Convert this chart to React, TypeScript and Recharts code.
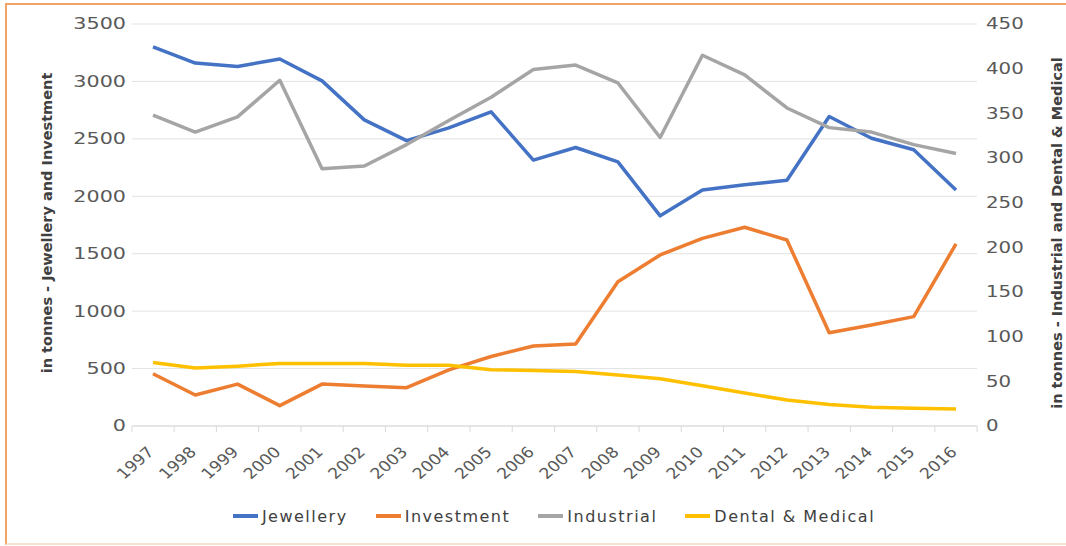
import { LineChart, Line, XAxis, YAxis, CartesianGrid, Legend } from "recharts";

const years = [
  "1997", "1998", "1999", "2000", "2001", "2002", "2003", "2004", "2005", "2006",
  "2007", "2008", "2009", "2010", "2011", "2012", "2013", "2014", "2015", "2016",
];
const jewellery = [3300, 3160, 3130, 3195, 3005, 2665, 2485, 2595, 2735, 2315, 2425, 2300, 1830, 2055, 2100, 2140, 2695, 2505, 2405, 2055];
const investment = [455, 270, 365, 177, 365, 348, 334, 488, 605, 697, 714, 1256, 1489, 1634, 1730, 1619, 812, 879, 952, 1585];
const industrial = [348, 329, 346, 387, 288, 291, 315, 342, 368, 399, 404, 384, 323, 415, 393, 356, 334, 329, 315, 305];
const dental = [71, 65, 67, 70, 70, 70, 68, 68, 63, 62, 61, 57, 53, 45, 37, 29, 24, 21, 20, 19];

const seriesNames = ["Jewellery", "Investment", "Industrial", "Dental & Medical"];

const leftTicks = [0, 500, 1000, 1500, 2000, 2500, 3000, 3500];
const rightTicks = [0, 50, 100, 150, 200, 250, 300, 350, 400, 450];

const data = years.map((year, i) => ({
  year,
  jewellery: jewellery[i],
  investment: investment[i],
  industrial: industrial[i],
  dental: dental[i],
}));

const FONT = "DejaVu Sans";
const TEXT = "#595959";
const AXIS = "#d9d9d9";

const LeftTick = (props: any) => {
  const { x, y, payload } = props;
  return (
    <text transform={`translate(${x + 2},${y}) scale(1.38,1)`} textAnchor="end" dy="0.36em" fontSize={15} fontFamily={FONT} fill={TEXT}>
      {payload.value}
    </text>
  );
};

const RightTick = (props: any) => {
  const { x, y, payload } = props;
  return (
    <text transform={`translate(${x + 1},${y}) scale(1.32,1)`} textAnchor="start" dy="0.36em" fontSize={15} fontFamily={FONT} fill={TEXT}>
      {payload.value}
    </text>
  );
};

// excel puts the tick marks between categories, so draw them at the band edges
const YearTick = (props: any) => {
  const { x, y, payload, index, width, visibleTicksCount } = props;
  const half = width / visibleTicksCount / 2;
  const isLast = index === visibleTicksCount - 1;
  return (
    <g>
      <line x1={x - half} x2={x - half} y1={y - 8} y2={y - 2} stroke={AXIS} />
      {isLast && <line x1={x + half} x2={x + half} y1={y - 8} y2={y - 2} stroke={AXIS} />}
      <text transform={`translate(${x + 2},${y + 19}) scale(1.15,1) rotate(-45)`} textAnchor="end" fontSize={15} fontFamily={FONT} fill={TEXT}>
        {payload.value}
      </text>
    </g>
  );
};

const AxisTitle = ({ viewBox, text, dx, dy = 0 }: any) => {
  const cx = viewBox.x + dx;
  const cy = viewBox.y + viewBox.height / 2 + dy;
  return (
    <text transform={`translate(${cx},${cy}) rotate(-90)`} textAnchor="middle" dominantBaseline="central" fontSize={14.5} fontWeight={600} fontFamily={FONT} fill="#404040">
      {text}
    </text>
  );
};

const LegendContent = (props: any) => {
  const { payload } = props;
  const items = seriesNames.map((n) => payload.find((p: any) => p.value === n)).filter(Boolean);
  return (
    <div style={{ display: "flex", justifyContent: "center", alignItems: "center", height: 30, fontFamily: FONT, fontSize: 16, letterSpacing: 1.5, color: "#404040" }}>
      {items.map((entry: any) => (
        <div key={entry.value} style={{ display: "flex", alignItems: "center", margin: "0 14px" }}>
          <span style={{ display: "inline-block", width: 25, height: 4, background: entry.color, marginRight: 4 }} />
          <span>{entry.value}</span>
        </div>
      ))}
    </div>
  );
};

export default function App() {
  return (
    <div style={{ position: "absolute", left: 0, top: 0, width: 1066, height: 546, background: "#fff", overflow: "hidden" }}>
      <div
        style={{
          position: "absolute",
          left: 5,
          top: 3,
          right: 0,
          bottom: 1,
          borderLeft: "2px solid #F0A468",
          borderTop: "2px solid #F0A468",
          borderBottom: "2px solid #F6E4D2",
        }}
      />
      <LineChart width={1066} height={546} data={data} margin={{ top: 24, right: 0, bottom: 15, left: 0 }}>
        <CartesianGrid vertical={false} stroke="#e3e3e3" yAxisId="left" />
        <XAxis
          dataKey="year"
          interval={0}
          height={75}
          padding={{ left: 21, right: 21 }}
          axisLine={{ stroke: AXIS }}
          tickLine={false}
          tick={<YearTick />}
        />
        <YAxis
          yAxisId="left"
          width={132}
          domain={[0, 3500]}
          ticks={leftTicks}
          interval={0}
          axisLine={false}
          tickLine={false}
          tick={<LeftTick />}
          label={<AxisTitle text="in tonnes - Jewellery and Investment" dx={47} dy={-2} />}
        />
        <YAxis
          yAxisId="right"
          orientation="right"
          width={89}
          domain={[0, 450]}
          ticks={rightTicks}
          interval={0}
          axisLine={false}
          tickLine={false}
          tick={<RightTick />}
          label={<AxisTitle text="in tonnes - Industrial and Dental & Medical" dx={80} dy={8} />}
        />
        <Legend
          verticalAlign="bottom"
          content={<LegendContent />}
          wrapperStyle={{ left: 42, width: 1024, height: 30 }}
        />
        <Line yAxisId="left" type="linear" dataKey="jewellery" name="Jewellery" stroke="#4472C4" strokeWidth={3.5} dot={false} strokeLinejoin="round" isAnimationActive={false} />
        <Line yAxisId="left" type="linear" dataKey="investment" name="Investment" stroke="#ED7D31" strokeWidth={3.5} dot={false} strokeLinejoin="round" isAnimationActive={false} />
        <Line yAxisId="right" type="linear" dataKey="industrial" name="Industrial" stroke="#A5A5A5" strokeWidth={3.5} dot={false} strokeLinejoin="round" isAnimationActive={false} />
        <Line yAxisId="right" type="linear" dataKey="dental" name="Dental & Medical" stroke="#FFC000" strokeWidth={3.5} dot={false} strokeLinejoin="round" isAnimationActive={false} />
      </LineChart>
    </div>
  );
}
